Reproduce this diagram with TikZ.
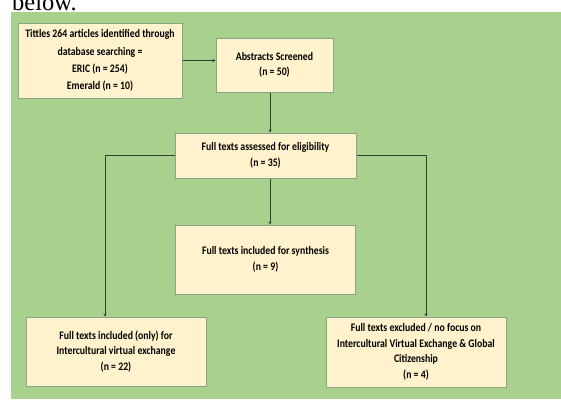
\documentclass[tikz,border=0pt]{standalone}
\usepackage{fontspec}
\setmainfont{Carlito}[FakeStretch=0.85]
\newfontfamily\serifbig{Liberation Serif}
\usetikzlibrary{arrows.meta,calc}
\definecolor{bggreen}{RGB}{169,209,142}
\definecolor{boxfill}{RGB}{255,242,204}
\definecolor{boxline}{RGB}{140,162,136}
\definecolor{linec}{RGB}{50,60,50}
\tikzset{
  box/.style={draw=boxline, line width=1pt, fill=boxfill, align=center, inner sep=2pt,
    font=\fontsize{11.5}{15.5}\selectfont\bfseries},
  arr/.style={draw=linec, line width=0.7pt, -{Stealth[length=3pt,width=3pt]}}
}
\begin{document}
\begin{tikzpicture}[x=1pt,y=-1pt]
\useasboundingbox (0,0) rectangle (561,399);
\begin{scope}
\clip (0,0) rectangle (561,399);
\node[anchor=base west, inner sep=0, font=\serifbig\fontsize{24.5}{26}\selectfont] (below) at (12,10) {below.};
\end{scope}
\fill[bggreen] (11,12) rectangle (561,399);
\node[box, minimum width=164pt, minimum height=75pt, font=\fontsize{11.5}{17.3}\selectfont\bfseries] (b1) at (100,60.5)
  {Tittles 264 articles identified through\\database searching =\\ERIC (n = 254)\\Emerald (n = 10)};
\node[box, minimum width=117pt, minimum height=54pt] (b2) at (274.5,65)
  {Abstracts Screened\\(n = 50)};
\node[box, minimum width=181pt, minimum height=45pt] (b3) at (265.5,155.5)
  {Full texts assessed for eligibility\\(n = 35)};
\node[box, minimum width=180pt, minimum height=69pt] (b4) at (265.5,259.5)
  {Full texts included for synthesis\\(n = 9)};
\node[box, minimum width=180pt, minimum height=69pt] (b5) at (116,351.5)
  {Full texts included (only) for\\Intercultural virtual exchange\\(n = 22)};
\node[box, minimum width=180pt, minimum height=70pt] (b6) at (416,352)
  {Full texts excluded / no focus on\\Intercultural Virtual Exchange \& Global\\Citizenship\\(n = 4)};
\coordinate (cm) at (270,0);
\coordinate (cl) at (105,0);
\coordinate (cr) at (426,0);
\draw[arr] (b1.east) -- (b1.east -| b2.west);
\draw[arr] (b2.south -| cm) -- (b3.north -| cm);
\draw[arr] (b3.south -| cm) -- (b4.north -| cm);
\draw[arr] (b3.west) -| (cl |- b5.north);
\draw[arr] (b3.east) -| (cr |- b6.north);
\end{tikzpicture}
\end{document}
